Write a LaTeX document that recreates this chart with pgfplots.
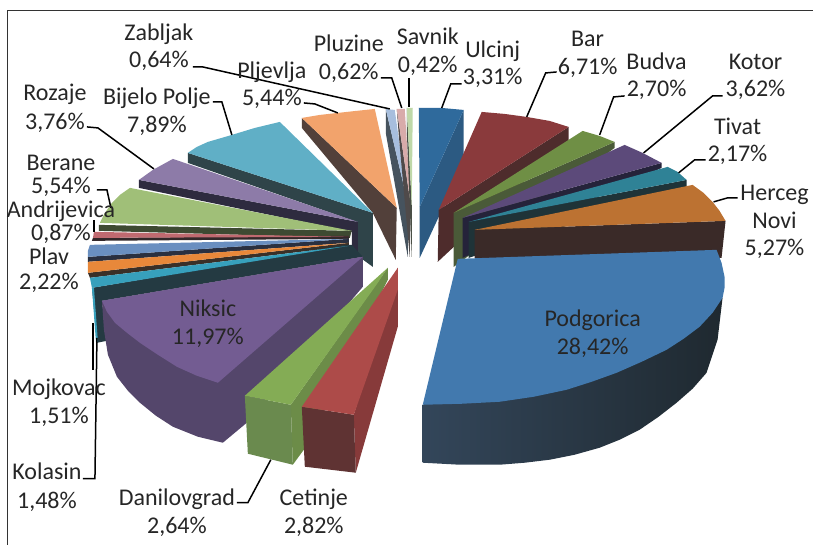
\documentclass[border=0pt]{standalone}
\usepackage{fontspec}
\setmainfont{Carlito}
\usepackage{pgfplots}
\pgfplotsset{compat=1.18}

\definecolor{txt}{HTML}{262626}
\definecolor{ulc}{HTML}{2F6A9C}  \definecolor{ulcS}{HTML}{2C5A82}
\definecolor{bar}{HTML}{8A3A3C}  \definecolor{barS}{HTML}{4E2C2C}
\definecolor{bud}{HTML}{6F8F45}  \definecolor{budS}{HTML}{4A5A38}
\definecolor{kot}{HTML}{5C4A7A}  \definecolor{kotS}{HTML}{25233A}
\definecolor{tiv}{HTML}{2F8296}  \definecolor{tivS}{HTML}{1F3338}
\definecolor{her}{HTML}{BC7232}  \definecolor{herS}{HTML}{3A2A28}
\definecolor{pod}{HTML}{4279AE}  \definecolor{podL}{HTML}{33465A}  \definecolor{podR}{HTML}{1F2930}
\definecolor{cet}{HTML}{AD4B49}  \definecolor{cetS}{HTML}{873A3A}  \definecolor{cetF}{HTML}{5F3333}
\definecolor{dan}{HTML}{84AC55}  \definecolor{danS}{HTML}{6C8C48}  \definecolor{danF}{HTML}{6A8A4E}
\definecolor{nik}{HTML}{735C92}  \definecolor{nikS}{HTML}{54466B}
\definecolor{kol}{HTML}{37A0BC}  \definecolor{kolS}{HTML}{243A42}
\definecolor{moj}{HTML}{E8883A}  \definecolor{mojS}{HTML}{3A3028}
\definecolor{pla}{HTML}{6A8FC0}  \definecolor{plaS}{HTML}{2A3040}
\definecolor{and}{HTML}{C06A70}  \definecolor{andS}{HTML}{33282A}
\definecolor{ber}{HTML}{A0BF78}  \definecolor{berS}{HTML}{3E4A32}
\definecolor{roz}{HTML}{8D7BA8}  \definecolor{rozS}{HTML}{2E2B3F}
\definecolor{bij}{HTML}{60AFC6}  \definecolor{bijS}{HTML}{2F4449}
\definecolor{plj}{HTML}{F2A36C}  \definecolor{pljS}{HTML}{52403A}
\definecolor{zab}{HTML}{A7BEDD}  \definecolor{zabS}{HTML}{46535E}
\definecolor{plu}{HTML}{D8ABAA}  \definecolor{pluS}{HTML}{4F4A4A}
\definecolor{sav}{HTML}{BFD8A8}  \definecolor{savS}{HTML}{4A4F46}

\newcommand{\lab}[3]{\node[anchor=base,text=txt,inner sep=0pt] at (axis cs:#1,#2) {\fontsize{24}{27}\selectfont #3};}

\begin{document}
\begin{tikzpicture}
\begin{axis}[
    scale only axis,
    width=813pt,
    height=545pt,
    xmin=0, xmax=813,
    ymin=0, ymax=545,
    y dir=reverse,
    hide axis,
    no markers,
    clip=false,
]

% keeps the page at the full size
\addplot[draw=none] coordinates {(0,0) (813,545)};

% frame
\addplot[color=black!80, line width=1pt] coordinates {(8,545) (8,11) (813,11)};

% thin slices at the back
\addplot[fill=zabS, draw=none] coordinates {(386,109) (386,133) (408,257) (408,203)} --cycle;
\addplot[fill=zab, draw=none] coordinates {(386,109) (395,110) (408,203)} --cycle;
\addplot[fill=pluS, draw=none] coordinates {(397,109) (399,135) (410,257) (411,205)} --cycle;
\addplot[fill=plu, draw=none] coordinates {(397,109) (405,109) (411,205)} --cycle;
\addplot[fill=savS, draw=none] coordinates {(407,108) (407,130) (412,257) (412,205)} --cycle;
\addplot[fill=sav, draw=none] coordinates {(407,108) (413,108) (412,205)} --cycle;

% Pljevlja
\addplot[fill=pljS, draw=none] coordinates {(302,118) (302,128) (373,213) (396,260) (397,208)} --cycle;
\addplot[fill=plj, draw=none] coordinates {(302,118) (320,115) (338,113) (356,111) (375,109) (397,208)} --cycle;

% Bijelo Polje
\addplot[fill=bijS, draw=none] coordinates {(188,153) (188,163) (357,222) (358,256) (373,267) (373,213)} --cycle;
\addplot[fill=bij, draw=none] coordinates {(280,122) (255,128) (232,135) (208,142) (197,147) (188,153) (373,213)} --cycle;

% Rozaje
\addplot[fill=rozS, draw=none] coordinates {(139,180) (139,188) (352,232) (352,252) (358,252) (358,222)} --cycle;
\addplot[fill=roz, draw=none] coordinates {(173,159) (153,170) (139,180) (358,222)} --cycle;

% Berane
\addplot[fill=berS, draw=none] coordinates {(99,225) (99,231) (350,238) (352,231)} --cycle;
\addplot[fill=ber, draw=none] coordinates {(130,188) (120,195) (112,203) (105,213) (100,223) (352,231)} --cycle;

% Andrijevica
\addplot[fill=andS, draw=none] coordinates {(93,238) (92,241) (349,239) (349,236)} --cycle;
\addplot[fill=and, draw=none] coordinates {(94,232) (93,238) (349,237)} --cycle;

% Plav
\addplot[fill=plaS, draw=none] coordinates {(88,257) (88,262) (349,243) (349,239)} --cycle;
\addplot[fill=pla, draw=none] coordinates {(90,245) (88,251) (88,257) (349,239)} --cycle;

% Mojkovac
\addplot[fill=mojS, draw=none] coordinates {(88,273) (90,278) (349,246) (349,243)} --cycle;
\addplot[fill=moj, draw=none] coordinates {(88,262) (88,273) (349,243)} --cycle;

% Kolasin
\addplot[fill=kolS, draw=none] coordinates {(92,288) (345,245) (352,245) (363,257) (102,301) (107,341) (97,343) (93,298)} --cycle;
\addplot[fill=kol, draw=none] coordinates {(90,278) (92,288) (349,246)} --cycle;
\addplot[fill=kol, draw=none] coordinates {(92,288) (94,288) (98,342) (96,342)} --cycle;

% Niksic
\addplot[fill=nikS, draw=none] coordinates {(102,301) (104,330) (108,355) (117,377) (128,391) (140,403) (156,416) (173,427) (198,437) (223,443) (247,423) (363,287) (363,257)} --cycle;
\addplot[fill=nik, draw=none] coordinates {(363,257) (102,301) (107,312) (115,323) (127,333) (140,343) (158,355) (177,367) (197,376) (218,383)} --cycle;

% Ulcinj
\addplot[fill=ulcS, draw=none] coordinates {(464,110) (464,163) (420,258) (420,207)} --cycle;
\addplot[fill=ulc, draw=none] coordinates {(419,108) (442,108) (464,110) (420,207)} --cycle;

% Bar
\addplot[fill=barS, draw=none] coordinates {(569,127) (569,140) (438,262) (439,210)} --cycle;
\addplot[fill=bar, draw=none] coordinates {(482,112) (505,114) (527,117) (550,121) (569,127) (439,210)} --cycle;

% Budva
\addplot[fill=budS, draw=none] coordinates {(615,142) (615,148) (454,267) (454,213)} --cycle;
\addplot[fill=bud, draw=none] coordinates {(583,131) (600,136) (615,142) (454,213)} --cycle;

% Kotor
\addplot[fill=kotS, draw=none] coordinates {(662,163) (662,168) (463,258) (463,218)} --cycle;
\addplot[fill=kot, draw=none] coordinates {(625,145) (643,153) (662,163) (463,218)} --cycle;

% Tivat
\addplot[fill=tivS, draw=none] coordinates {(687,180) (687,187) (469,258) (469,222)} --cycle;
\addplot[fill=tiv, draw=none] coordinates {(668,167) (678,172) (687,180) (469,222)} --cycle;

% Herceg Novi
\addplot[fill=herS, draw=none] coordinates {(726,221) (722,258) (475,258) (475,230)} --cycle;
\addplot[fill=her, draw=none] coordinates {(693,185) (704,193) (713,202) (720,211) (726,221) (475,230)} --cycle;

% Podgorica
\addplot[left color=podL, right color=podR, draw=none] coordinates {(723,298) (718,340) (707,373) (693,389) (677,403) (659,417) (640,430) (620,440) (600,448) (575,455) (550,460) (525,463) (500,465) (460,465) (423,463) (423,405)} --cycle;
\addplot[fill=pod, draw=none] coordinates {(458,259) (717,250) (722,263) (725,277) (725,288) (723,298) (713,313) (700,327) (684,339) (667,350) (642,362) (617,373) (592,382) (567,390) (534,397) (500,402) (462,404) (423,405)} --cycle;

% Danilovgrad
\addplot[fill=danS, draw=none] coordinates {(291,405) (293,465) (304,450) (388,280) (388,268)} --cycle;
\addplot[fill=danF, draw=none] coordinates {(245,396) (291,405) (293,465) (248,454)} --cycle;
\addplot[fill=dan, draw=none] coordinates {(245,396) (291,405) (378,283) (388,268)} --cycle;

% Cetinje
\addplot[fill=cetS, draw=none] coordinates {(354,415) (356,473) (398,327) (398,268)} --cycle;
\addplot[fill=cetF, draw=none] coordinates {(302,407) (354,415) (356,473) (305,467)} --cycle;
\addplot[fill=cet, draw=none] coordinates {(302,407) (354,415) (398,290) (398,268)} --cycle;

% leader lines
\addplot[black, line width=1.5pt] coordinates {(193,67) (203,67) (390,109)};
\addplot[black, line width=1.5pt] coordinates {(381,78) (392,78) (402,108)};
\addplot[black, line width=1.5pt] coordinates {(409,78) (409,107)};
\addplot[black, line width=1.5pt] coordinates {(462,84) (451,84) (442,108)};
\addplot[black, line width=1.5pt] coordinates {(557,72) (546,73) (527,117)};
\addplot[black, line width=1.5pt] coordinates {(625,96) (614,97) (600,135)};
\addplot[black, line width=1.5pt] coordinates {(723,96) (713,96) (644,153)};
\addplot[black, line width=1.5pt] coordinates {(706,160) (695,160) (679,173)};
\addplot[black, line width=1.5pt] coordinates {(738,198) (728,198) (714,202)};
\addplot[black, line width=1.5pt] coordinates {(304,103) (315,104) (338,113)};
\addplot[black, line width=1.5pt] coordinates {(213,102) (222,102) (232,135)};
\addplot[black, line width=1.5pt] coordinates {(87,127) (98,128) (154,169)};
\addplot[black, line width=1.5pt] coordinates {(97,190) (107,190) (111,208)};
\addplot[black, line width=1.5pt] coordinates {(94,220) (94,232)};
\addplot[black, line width=1.5pt] coordinates {(93,323) (93,370)};
\addplot[black, line width=1.5pt] coordinates {(83,479) (95,479) (97,338)};
\addplot[black, line width=1.5pt] coordinates {(237,503) (248,503) (271,460)};

% labels
\lab{159}{41}{Zabljak}      \lab{159}{68}{0,64\%}
\lab{349}{52}{Pluzine}      \lab{349}{80}{0,62\%}
\lab{428}{45}{Savnik}       \lab{428}{73}{0,42\%}
\lab{493}{58}{Ulcinj}       \lab{493}{85}{3,31\%}
\lab{588}{47}{Bar}          \lab{588}{75}{6,71\%}
\lab{657}{70}{Budva}        \lab{657}{97}{2,70\%}
\lab{756}{70}{Kotor}        \lab{756}{97}{3,62\%}
\lab{738}{135}{Tivat}       \lab{738}{162}{2,17\%}
\lab{775}{201}{Herceg}      \lab{775}{229}{Novi}   \lab{775}{256}{5,27\%}
\lab{272}{79}{Pljevlja}     \lab{272}{106}{5,44\%}
\lab{157}{105}{Bijelo Polje} \lab{157}{133}{7,89\%}
\lab{55}{101}{Rozaje}       \lab{55}{130}{3,76\%}
\lab{61}{171}{Berane}       \lab{61}{194}{5,54\%}
\lab{61}{218}{Andrijevica}  \lab{61}{241}{0,87\%}
\lab{49}{265}{Plav}         \lab{49}{290}{2,22\%}
\lab{208}{317}{Niksic}      \lab{208}{345}{11,97\%}
\lab{593}{327}{Podgorica}   \lab{593}{355}{28,42\%}
\lab{59}{396}{Mojkovac}     \lab{59}{424}{1,51\%}
\lab{47}{480}{Kolasin}      \lab{47}{509}{1,48\%}
\lab{177}{506}{Danilovgrad} \lab{177}{534}{2,64\%}
\lab{314}{506}{Cetinje}     \lab{314}{534}{2,82\%}

\end{axis}
\end{tikzpicture}
\end{document}
